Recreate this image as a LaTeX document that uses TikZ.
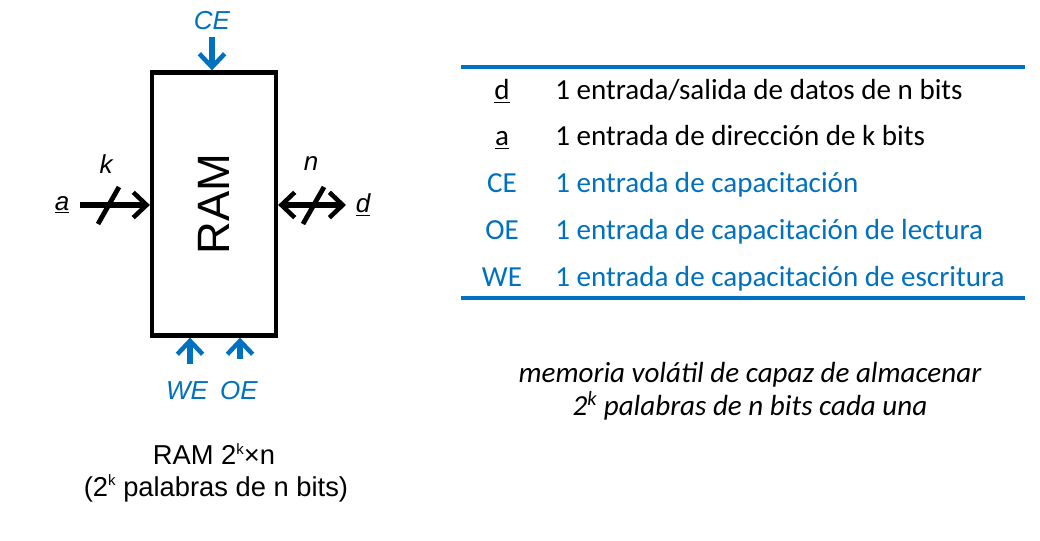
\documentclass[tikz,border=0pt]{standalone}
\usepackage{fontspec}
\setmainfont{Liberation Sans}
\newfontfamily\calibri{Carlito}
\usetikzlibrary{arrows.meta}
\definecolor{ofblue}{RGB}{0,112,192}
\newcommand{\supk}{\raisebox{0.75ex}{\scalebox{0.55}{k}}}
\begin{document}
\begin{tikzpicture}[x=0.75pt,y=-0.75pt,
  barb/.tip={Straight Barb[length=10pt,width=19pt,line width=3.4pt]},
  sig/.style={line width=3.8pt,-barb},
  bothsig/.style={line width=3.8pt,barb-barb},
  bus/.style={line width=3.6pt},
  lbl/.style={font=\fontsize{19.5}{22}\selectfont\itshape,inner sep=0pt},
  bluelbl/.style={lbl,text=ofblue},
  captxt/.style={font=\fontsize{20.5}{24}\selectfont,inner sep=0pt},
  tkey/.style={font=\calibri\fontsize{21.8}{26}\selectfont,inner sep=0pt,anchor=base},
  tval/.style={font=\calibri\fontsize{21.8}{26}\selectfont,inner sep=0pt,anchor=base west},
  tabrule/.style={ofblue,line width=3.5pt}]
\useasboundingbox (0,0) rectangle (1040,541);

% RAM block
\node (ram) [draw,line width=3.2pt,minimum width=124*0.75pt,minimum height=263*0.75pt,inner sep=0pt] at (214,204) {};
\node [rotate=90,font=\fontsize{34}{40}\selectfont,inner sep=0pt] at (214,204) {RAM};

% control inputs
\node (ce) [bluelbl] at (212,21) {CE};
\coordinate (ceS) at (212,37);
\draw [sig,ofblue] (ceS) -- (ram.north -| ceS);
\coordinate (weS) at (190,364);
\coordinate (oeS) at (240,359);
\draw [sig,ofblue] (weS) -- (ram.south -| weS);
\draw [sig,ofblue] (oeS) -- (ram.south -| oeS);
\node (we) [bluelbl] at (187,391) {WE};
\node (oe) [bluelbl] at (239,391) {OE};

% address bus
\node (a) [lbl] at (62,205) {\underline{a}};
\coordinate (aS) at (80,205);
\draw [sig] (aS) -- (ram.west |- aS);
\coordinate (ks1) at (98,224);
\coordinate (ks2) at (119,187);
\draw [bus] (ks1) -- (ks2);
\node (k) [lbl] at (106,164) {k};

% data bus
\coordinate (dS) at (346,205);
\draw [bothsig] (ram.east |- dS) -- (dS);
\coordinate (ns1) at (303,224);
\coordinate (ns2) at (324,187);
\draw [bus] (ns1) -- (ns2);
\node (n) [lbl] at (311,164) {n};
\node (d) [lbl] at (363,205) {\underline{d}};

% caption
\node (cap1) [captxt] at (214,454) {RAM 2\supk×n};
\node (cap2) [captxt] at (216,488) {(2\supk\ palabras de n bits)};

% signal table
\coordinate (tl) at (461,67);
\coordinate (tr) at (1025,67);
\coordinate (bl) at (461,298);
\coordinate (br) at (1025,298);
\draw [tabrule] (tl) -- (tr);
\draw [tabrule] (bl) -- (br);
\node (k1) [tkey] at (502,100) {\underline{d}};
\node (v1) [tval] at (555,100) {1 entrada/salida de datos de n bits};
\node (k2) [tkey] at (502,146) {\underline{a}};
\node (v2) [tval] at (555,146) {1 entrada de dirección de k bits};
\node (k3) [tkey,text=ofblue] at (502,193) {CE};
\node (v3) [tval,text=ofblue] at (555,193) {1 entrada de capacitación};
\node (k4) [tkey,text=ofblue] at (502,240) {OE};
\node (v4) [tval,text=ofblue] at (555,240) {1 entrada de capacitación de lectura};
\node (k5) [tkey,text=ofblue] at (502,287) {WE};
\node (v5) [tval,text=ofblue] at (555,287) {1 entrada de capacitación de escritura};

% description
\node (desc) [font=\calibri\itshape\fontsize{21.8}{25}\selectfont,align=center,inner sep=0pt] at (750,391)
  {memoria volátil de capaz de almacenar\\2\textsuperscript{k} palabras de n bits cada una};
\end{tikzpicture}
\end{document}
